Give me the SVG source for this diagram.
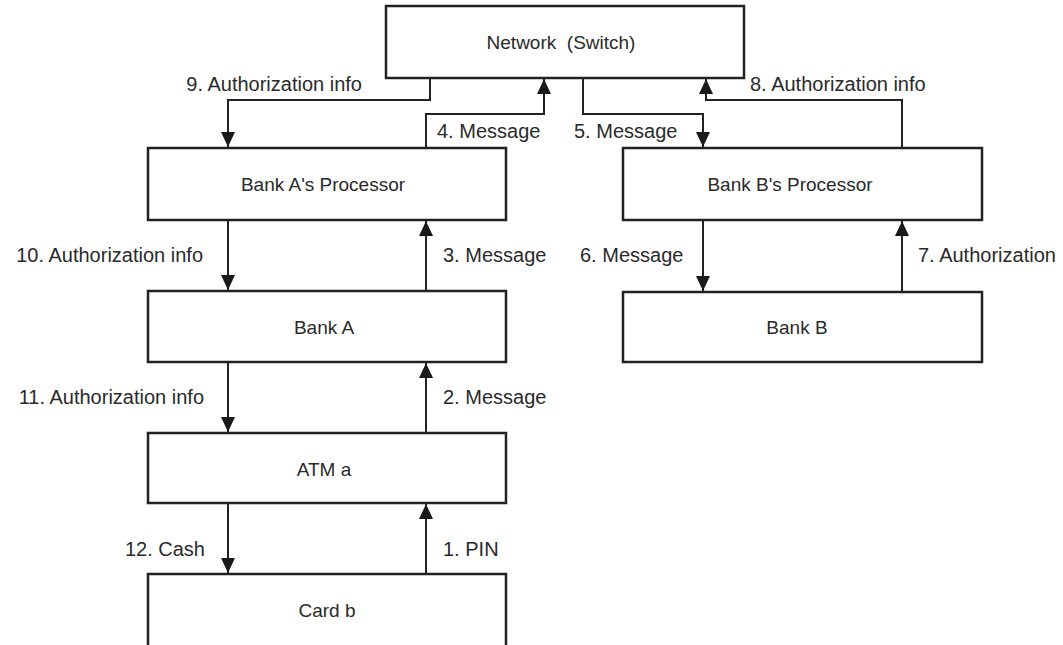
<svg xmlns="http://www.w3.org/2000/svg" width="1063" height="645" viewBox="0 0 1063 645">
<defs>
<style>
.box{fill:#fff;stroke:#222;stroke-width:2.5}
.nt{font-family:"Liberation Sans",Arial,sans-serif;font-size:19px;fill:#2a2a2a;text-anchor:middle}
.lb{font-family:"Liberation Sans",Arial,sans-serif;font-size:20px;fill:#2a2a2a}
.e{text-anchor:end}
.c{fill:none;stroke:#222;stroke-width:2;marker-end:url(#ah)}
</style>
<marker id="ah" markerUnits="userSpaceOnUse" markerWidth="15" markerHeight="15" viewBox="0 0 15 15" refX="15" refY="7.5" orient="auto">
<path d="M0,0.5 L15,7.5 L0,14.5 z" fill="#1a1a1a"/>
</marker>
</defs>
<rect width="1063" height="645" fill="#fff"/>
<g id="connectors">
<path class="c" d="M430,78 V100 H228 V147"/>
<path class="c" d="M228,220 V290"/>
<path class="c" d="M228,362 V432"/>
<path class="c" d="M228,503 V573"/>
<path class="c" d="M426,574 V504"/>
<path class="c" d="M426,433 V363"/>
<path class="c" d="M426,291 V221"/>
<path class="c" d="M426,148 V114 H544 V79"/>
<path class="c" d="M583,78 V114 H703 V147"/>
<path class="c" d="M703,220 V291"/>
<path class="c" d="M902,292 V221"/>
<path class="c" d="M902,148 V100 H706 V79"/>
<text class="lb e" x="362" y="91">9. Authorization info</text>
<text class="lb" x="750" y="91">8. Authorization info</text>
<text class="lb" x="437" y="138">4. Message</text>
<text class="lb" x="574" y="138">5. Message</text>
<text class="lb e" x="203" y="262">10. Authorization info</text>
<text class="lb" x="443" y="262">3. Message</text>
<text class="lb" x="580" y="262">6. Message</text>
<text class="lb" x="918" y="262">7. Authorization</text>
<text class="lb e" x="204" y="404">11. Authorization info</text>
<text class="lb" x="443" y="404">2. Message</text>
<text class="lb e" x="205" y="556">12. Cash</text>
<text class="lb" x="443" y="556">1. PIN</text>
</g>
<g id="network"><rect class="box" x="386" y="6" width="358" height="72"/><text class="nt" x="561" y="49" xml:space="preserve">Network  (Switch)</text></g>
<g id="procA"><rect class="box" x="148" y="148" width="358" height="72"/><text class="nt" x="323" y="191">Bank A's Processor</text></g>
<g id="procB"><rect class="box" x="623" y="148" width="359" height="72"/><text class="nt" x="790" y="191">Bank B's Processor</text></g>
<g id="bankA"><rect class="box" x="148" y="291" width="358" height="71"/><text class="nt" x="324" y="334">Bank A</text></g>
<g id="bankB"><rect class="box" x="623" y="292" width="359" height="70"/><text class="nt" x="797" y="334">Bank B</text></g>
<g id="atm"><rect class="box" x="148" y="433" width="358" height="70"/><text class="nt" x="324" y="476">ATM a</text></g>
<g id="card"><rect class="box" x="148" y="574" width="358" height="90"/><text class="nt" x="327" y="617">Card b</text></g>
</svg>
